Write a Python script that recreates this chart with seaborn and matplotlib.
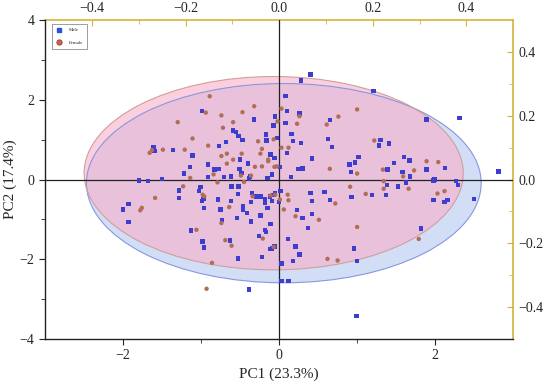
import numpy as np
import pandas as pd
import seaborn as sns
import matplotlib.pyplot as plt
from matplotlib.patches import Ellipse

# PCA scores (PC1, PC2)
male_pc1 = [-0.99, -0.32, -0.59, -0.55, -0.52, -0.47, -0.68, -0.77, -1.36, -1.61, -1.60, -1.11, -0.91, -0.77,
            -0.83, -1.14, -1.22, -0.50, -0.40, -0.17, -0.05, -0.07, -0.16, -0.11, -1.80, -1.68, -1.50, -0.91,
            -0.62, -0.37, -0.15,
            0.40, 0.28, 1.21, 2.31, 1.89, 0.08, 0.10, 0.08, 0.26, 0.65, 0.16, 0.18, 0.28, -0.03, 0.10, 0.63,
            0.68, 0.42, 0.25, 0.30, 0.01, 0.15, 1.30, 1.28, 1.41, 1.02, 0.97, 0.90, 0.92, 1.39, 1.47, 1.60,
            1.67, 1.58, 1.68, 1.89, 2.13, 1.98, 2.27, 2.29,
            -1.93, -2.00, -1.93, -1.28, -1.28, -1.01, -1.03, -0.97, -0.99, -0.96, -0.78, -0.75, -0.62, -0.53,
            -0.46, -0.46, -0.41, -0.36, -0.29, -0.23, -0.18, -0.15, -0.24, -0.36, -0.54, -0.73, -1.13, -0.98,
            -0.96, -0.63, -0.53, -0.22, -0.18, -0.17, -0.11, -0.26, -0.11, -0.06, -0.39, -0.07, -0.18,
            0.40, 0.42, 0.58, 0.65, 0.93, 1.19, 1.37, 1.38, 1.52, 1.63, 1.98, 2.12, 2.16, 1.99, 2.50, 1.82,
            -0.09, -0.05, 0.02, -0.09, 0.23, 0.30, 0.42, 0.37, 0.11, 0.21, 0.26, 0.18, 0.03, -0.09, 0.96,
            1.00, 0.03, 0.12,
            2.81, 0.99, -0.06, -0.51, -0.48, -0.71, -0.61, -0.52, -0.35, -0.12, -0.39, 0.00]
male_pc2 = [1.72, 1.51, 1.23, 1.20, 1.09, 0.99, 0.94, 0.84, 0.74, 0.82, 0.72, 0.60, 0.38, 0.27,
            0.25, 0.31, 0.15, 0.50, 0.40, 1.13, 1.58, 1.36, 0.98, 0.63, -0.02, -0.04, 0.02, 0.07,
            0.08, 0.08, 0.04,
            2.64, 2.49, 2.22, 1.55, 1.51, 2.09, 1.72, 1.42, 1.66, 1.49, 1.15, 0.96, 0.92, 1.05, 0.67, 1.02,
            0.81, 0.53, 0.27, 0.28, 0.32, 0.06, 0.99, 0.85, 0.90, 0.57, 0.43, 0.38, 0.19, 0.25, 0.42, 0.56,
            0.48, 0.19, 0.08, 0.25, 0.29, -0.02, -0.04, -0.13,
            -0.61, -0.75, -1.06, -0.27, -0.46, -0.18, -0.29, -0.48, -0.54, -0.71, -0.50, -0.75, -0.54, -0.36,
            -0.67, -0.75, -0.84, -0.57, -0.42, -0.42, -0.48, -0.71, -0.90, -1.05, -0.96, -1.02, -1.28, -1.55,
            -1.70, -1.53, -1.98, -1.94, -1.26, -1.31, -1.11, -1.41, -1.74, -1.68, -2.76, -0.38, -0.59,
            -0.33, -0.54, -0.31, -0.52, -0.44, -0.38, -0.38, -0.13, -0.17, -0.07, -0.52, -0.57, -0.52, 0.00, -0.48, -1.23,
            0.13, -0.33, -0.29, -0.54, -0.77, -0.96, -0.86, -1.21, -1.49, -1.68, -1.88, -2.05, -2.11, -1.73, -1.73,
            -2.05, -2.55, -2.55,
            0.20, -3.42, 0.54, 0.27, 0.17, 0.07, -0.17, -0.17, -0.33, -0.42, 0.03, -0.56]

female_pc1 = [-0.89, -0.32, -0.94, -1.30, -0.74, -0.47, -0.59, -0.72, -1.11, -0.91, -1.49, -1.21, -1.66, -1.63,
              -0.67, -0.74, -0.48, -0.59, -0.27, -0.22, -0.24, -0.14, -0.07, -0.84, -1.14, -0.31, -0.22, -1.23,
              -0.02,
              1.00, 0.76, 0.61, 0.26, 0.23, 0.03, 0.03, 0.12, -0.03, 1.22, 0.65, 1.00, 1.33, 1.73, 1.89, 2.04,
              1.59, 0.91, 1.34,
              -1.59, -1.76, -1.78, -0.98, -0.96, -0.79, -0.64, -0.34, -0.74, -1.06, -0.69, -0.61, -0.21, -0.07,
              -0.86, -0.93, -0.11,
              1.11, 0.72, 0.51, 0.21, 0.06, 0.11, 0.12, -0.05, 1.00, 0.62, 0.75, 1.66, 2.03, 2.12, 1.79, 1.34,
              -0.14, -0.67, -0.06, -0.36, -0.49, -0.45, 0.01]
female_pc2 = [2.09, 1.84, 1.68, 1.44, 1.61, 1.69, 1.44, 1.30, 1.03, 0.85, 0.75, 0.75, 0.67, 0.74,
              0.65, 0.59, 0.65, 0.50, 0.96, 0.77, 0.65, 0.50, 1.01, 0.13, 0.04, 0.32, 0.33, -0.17,
              1.46,
              1.76, 1.58, 1.38, 1.59, 1.40, 1.78, 0.80, 0.80, 0.33, 0.98, 0.27, 0.15, 0.25, 0.23, 0.46, 0.44,
              0.08, -0.18, -0.04,
              -0.46, -0.71, -0.77, -0.38, -0.42, -0.07, -0.69, -0.42, -1.09, -1.26, -1.52, -1.66, -1.48, -1.69,
              -2.09, -2.74, -0.40,
              -0.36, -0.60, -1.01, -0.92, -0.75, -0.38, -0.52, -0.38, -1.19, -1.99, -2.03, -0.23, -0.35, -0.29, -1.49, -0.23,
              0.46, 0.40, 0.32, 0.10, 0.10, -0.06, -0.50]

groups = ['Male', 'Female']
# confidence ellipses: centre x, centre y, full width, full height (PC units)
ell_cx = [0.06, -0.07]
ell_cy = [-0.09, 0.16]
ell_w = [5.06, 4.86]
ell_h = [5.00, 4.85]

df = pd.DataFrame({
    'PC1': male_pc1 + female_pc1,
    'PC2': male_pc2 + female_pc2,
    'Sex': ['Male'] * len(male_pc1) + ['Female'] * len(female_pc1),
})

sns.set_style('ticks')
plt.rcParams['font.family'] = ['Liberation Serif', 'DejaVu Serif']

fig = plt.figure(figsize=(5.5, 3.87), dpi=100)
ax = fig.add_axes([0.082, 0.124, 0.851, 0.824])

fills = {'Male': ('#d2def6', 1.0), 'Female': ('#faafc8', 0.6)}
edges = {'Male': '#8797e0', 'Female': '#cf9f9c'}
for g, cx, cy, w, h in zip(groups, ell_cx, ell_cy, ell_w, ell_h):
    fc, a = fills[g]
    ax.add_patch(Ellipse((cx, cy), w, h, facecolor=fc, alpha=a,
                         edgecolor='none', zorder=1))
    ax.add_patch(Ellipse((cx, cy), w, h, facecolor='none',
                         edgecolor=edges[g], lw=0.8, zorder=1.5))

ax.axhline(0, color='#222222', lw=0.9, zorder=2)
ax.axvline(0, color='#222222', lw=0.9, zorder=2)

sns.scatterplot(data=df, x='PC1', y='PC2', hue='Sex', style='Sex',
                hue_order=groups, style_order=groups,
                palette={'Male': '#3d3dcf', 'Female': '#b06e56'},
                markers={'Male': 's', 'Female': 'o'},
                s=10, linewidth=0, ax=ax, zorder=3, legend=False)

ax.set_xlim(-3, 3)
ax.set_ylim(-4, 4)
ax.set_xticks([-2, 0, 2])
ax.set_xticks([-1, 1], minor=True)
ax.set_yticks([-4, -2, 0, 2, 4])
ax.set_yticks([-3, -1, 1, 3], minor=True)
ax.tick_params(which='both', direction='out', labelsize=10, color='#222222')
ax.tick_params(which='major', length=4)
ax.tick_params(which='minor', length=3)
ax.set_xticklabels(['\u22122', '0', '2'])
ax.set_yticklabels(['\u22124', '\u22122', '0', '2', '4'])
ax.set_xlabel('PC1 (23.3%)', fontsize=11, labelpad=4)
ax.set_ylabel('PC2 (17.4%)', fontsize=11, labelpad=2)

gold = '#d6b23a'
for side in ['left', 'bottom']:
    ax.spines[side].set_color('#222222')
    ax.spines[side].set_linewidth(1.0)
ax.spines['top'].set_visible(False)
ax.spines['right'].set_visible(False)

top = ax.secondary_xaxis('top', functions=(lambda v: v / 6, lambda v: v * 6))
top.set_xticks([-0.4, -0.2, 0.0, 0.2, 0.4])
top.set_xticks([-0.3, -0.1, 0.1, 0.3], minor=True)
top.set_xticklabels(['\u22120.4', '\u22120.2', '0.0', '0.2', '0.4'])
top.spines['top'].set_color(gold)
top.spines['top'].set_linewidth(1.2)
top.tick_params(which='both', direction='in', color=gold, labelsize=10)
top.tick_params(which='major', length=4)
top.tick_params(which='minor', length=3)

right = ax.secondary_yaxis('right', functions=(lambda v: v / 8, lambda v: v * 8))
right.set_yticks([-0.4, -0.2, 0.0, 0.2, 0.4])
right.set_yticks([-0.3, -0.1, 0.1, 0.3], minor=True)
right.set_yticklabels(['\u22120.4', '\u22120.2', '0.0', '0.2', '0.4'])
right.spines['right'].set_color(gold)
right.spines['right'].set_linewidth(1.2)
right.tick_params(which='both', direction='in', color=gold, labelsize=10)
right.tick_params(which='major', length=4)
right.tick_params(which='minor', length=3)

h_male = plt.Line2D([], [], ls='none', marker='s', ms=3.5, color='#2f4fd8')
h_female = plt.Line2D([], [], ls='none', marker='o', ms=3.8, markerfacecolor='#e05a4a',
                      markeredgecolor='#7a4a2a', markeredgewidth=0.6)
leg = ax.legend([h_male, h_female], groups, loc='upper left', bbox_to_anchor=(0.01, 0.995),
                fontsize=3.5, frameon=True, fancybox=False, handlelength=1.2,
                borderpad=0.8, labelspacing=1.6, handletextpad=1.5)
leg.get_frame().set_edgecolor('#555555')
leg.get_frame().set_linewidth(0.5)

fig.savefig('out.png', dpi=100)
